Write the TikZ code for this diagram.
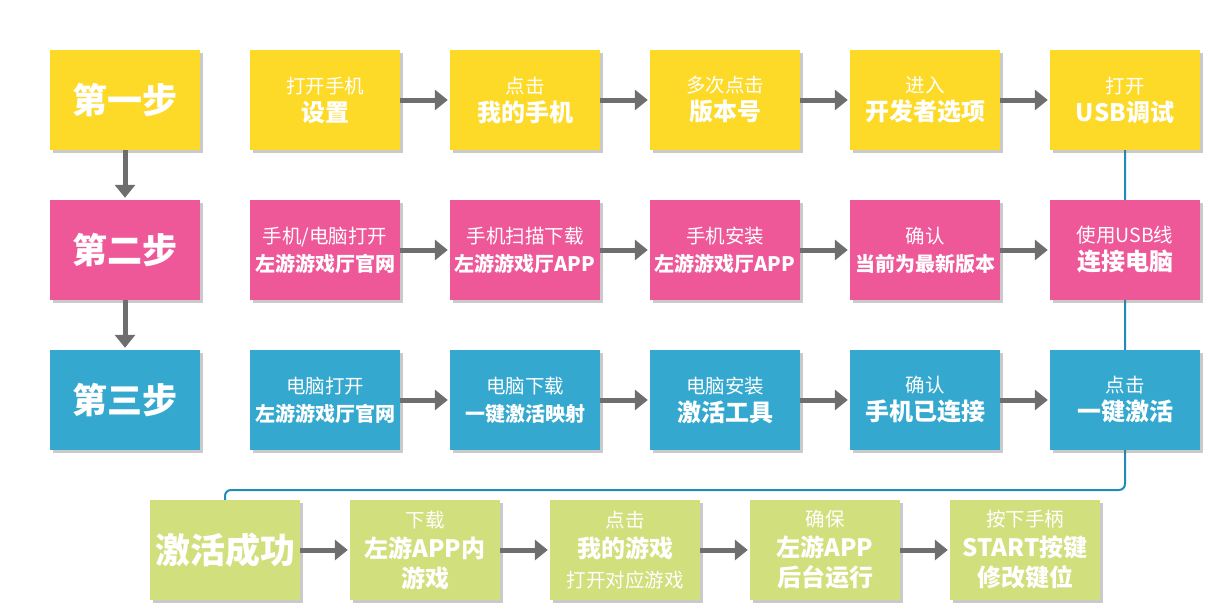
\documentclass[tikz,border=0pt]{standalone}
\usepackage{fontspec}
\setmainfont{Noto Sans CJK SC}
\usetikzlibrary{arrows.meta,shadows,backgrounds}
\definecolor{cy}{RGB}{253,218,40}
\definecolor{cp}{RGB}{238,87,152}
\definecolor{cb}{RGB}{52,168,206}
\definecolor{cg}{RGB}{209,223,125}
\definecolor{ca}{RGB}{110,110,110}
\definecolor{cl}{RGB}{31,141,184}
\newcommand{\sm}[1]{{\fontsize{19.5}{28}\selectfont #1}}
\newcommand{\bg}[1]{{\fontsize{24}{28}\selectfont\bfseries #1}}
\newcommand{\bm}[1]{{\fontsize{20}{28}\selectfont\bfseries #1}}
\newcommand{\hd}[1]{{\fontsize{35}{40}\selectfont\bfseries #1}}
\begin{document}
\begin{tikzpicture}[x=1pt,y=-1pt,
  box/.style={minimum width=150pt,minimum height=100pt,inner sep=0pt,text=white,align=center,
    font=\fontsize{19.5}{28}\selectfont,
    drop shadow={shadow xshift=3pt,shadow yshift=-3pt,opacity=0.35,fill=black!60}},
  yb/.style={box,fill=cy},
  pb/.style={box,fill=cp},
  bb/.style={box,fill=cb},
  gb/.style={box,fill=cg,font=\fontsize{19.5}{30}\selectfont},
  arr/.style={draw=ca,line width=5pt,-{Triangle[length=13pt,width=20pt]},shorten >=2pt},
  lnk/.style={draw=cl,line width=2pt,rounded corners=6pt}]
\useasboundingbox (0,0) rectangle (1210,610);
% row 1
\node[yb] (a0) at (125,100) {\hd{第一步}};
\node[yb] (a1) at (325,100) {\sm{打开手机}\\\bg{设置}};
\node[yb] (a2) at (525,100) {\sm{点击}\\\bg{我的手机}};
\node[yb] (a3) at (725,100) {\sm{多次点击}\\\bg{版本号}};
\node[yb] (a4) at (925,100) {\sm{进入}\\\bg{开发者选项}};
\node[yb] (a5) at (1125,100) {\sm{打开}\\\bg{USB调试}};
% row 2
\node[pb] (b0) at (125,250) {\hd{第二步}};
\node[pb] (b1) at (325,250) {\sm{手机/电脑打开}\\\bm{左游游戏厅官网}};
\node[pb] (b2) at (525,250) {\sm{手机扫描下载}\\\bm{左游游戏厅APP}};
\node[pb] (b3) at (725,250) {\sm{手机安装}\\\bm{左游游戏厅APP}};
\node[pb] (b4) at (925,250) {\sm{确认}\\\bm{当前为最新版本}};
\node[pb] (b5) at (1125,250) {\sm{使用USB线}\\\bg{连接电脑}};
% row 3
\node[bb] (c0) at (125,400) {\hd{第三步}};
\node[bb] (c1) at (325,400) {\sm{电脑打开}\\\bm{左游游戏厅官网}};
\node[bb] (c2) at (525,400) {\sm{电脑下载}\\\bm{一键激活映射}};
\node[bb] (c3) at (725,400) {\sm{电脑安装}\\\bg{激活工具}};
\node[bb] (c4) at (925,400) {\sm{确认}\\\bg{手机已连接}};
\node[bb] (c5) at (1125,400) {\sm{点击}\\\bg{一键激活}};
% row 4
\node[gb] (d0) at (225,550) {\hd{激活成功}};
\node[gb] (d1) at (425,550) {\sm{下载}\\\bg{左游APP内}\\\bg{游戏}};
\node[gb] (d2) at (625,550) {\sm{点击}\\\bg{我的游戏}\\\sm{打开对应游戏}};
\node[gb] (d3) at (825,550) {\sm{确保}\\\bg{左游APP}\\\bg{后台运行}};
\node[gb] (d4) at (1025,550) {\sm{按下手柄}\\\bg{START按键}\\\bg{修改键位}};
% connectors
\coordinate (t1) at (1125,490);
\coordinate (t2) at (225,490);
\begin{scope}[on background layer]
\draw[lnk] (a5.south) -- (t1) -- (t2) -- (d0.north);
\end{scope}
\draw[arr] (a0.south) -- (b0.north);
\draw[arr] (b0.south) -- (c0.north);
\foreach \r in {a,b,c}{
  \draw[arr] (\r1.east) -- (\r2.west);
  \draw[arr] (\r2.east) -- (\r3.west);
  \draw[arr] (\r3.east) -- (\r4.west);
  \draw[arr] (\r4.east) -- (\r5.west);
}
\draw[arr] (d0.east) -- (d1.west);
\draw[arr] (d1.east) -- (d2.west);
\draw[arr] (d2.east) -- (d3.west);
\draw[arr] (d3.east) -- (d4.west);
\end{tikzpicture}
\end{document}
